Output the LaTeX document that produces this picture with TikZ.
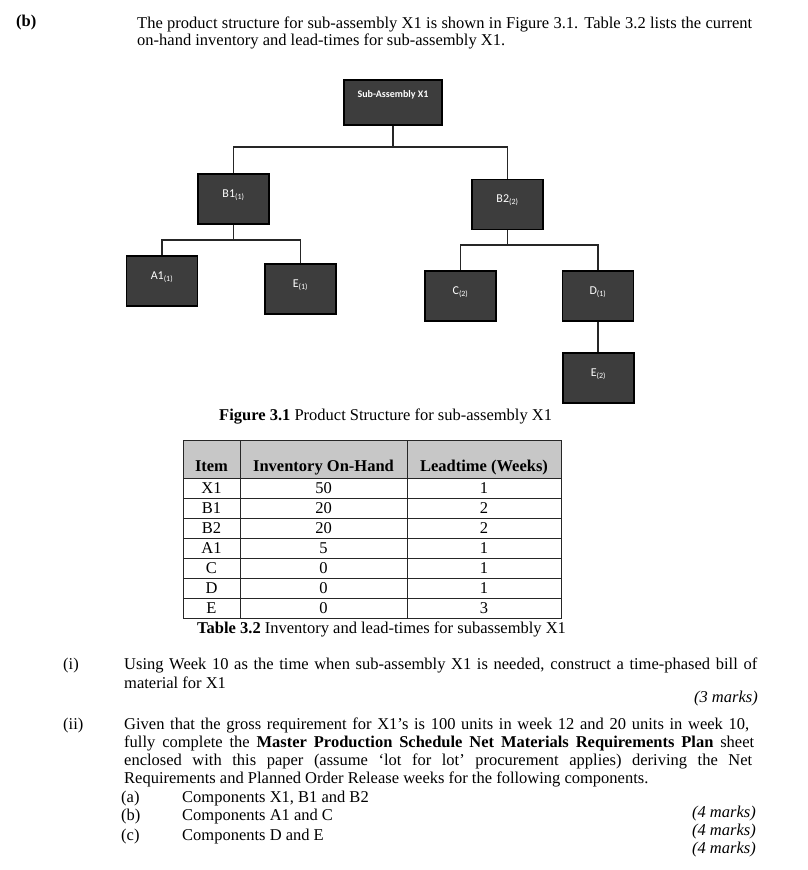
\documentclass[tikz,border=0pt]{standalone}
\usepackage{fontspec}
\setmainfont{Liberation Serif}
\newfontfamily\boxfont{Carlito}

\begin{document}
\begin{tikzpicture}[x=1pt, y=-1pt,
			partbox/.style={rectangle, draw=black, line width=1.3pt, fill=black!76,
				text=white, font=\boxfont\fontsize{12}{14}\selectfont,
				minimum width=71pt, minimum height=50pt, inner sep=0pt, text depth=11pt},
			topbox/.style={partbox, minimum width=98pt, minimum height=45pt,
				font=\boxfont\bfseries\fontsize{10}{12}\selectfont, text depth=17pt},
			bomline/.style={draw=black!85, line width=1.8pt},
			tabline/.style={draw=black!85, line width=1pt},
			body/.style={anchor=base west, inner sep=0pt, font=\fontsize{16.5}{18.4}\selectfont},
			marks/.style={anchor=base east, inner sep=0pt, font=\fontsize{16.5}{18.4}\selectfont\itshape},
			cell/.style={anchor=base, inner sep=0pt, font=\fontsize{16.5}{18.4}\selectfont}
			]
			\useasboundingbox (0,0) rectangle (808,870);
			
			% Question text above the figure
			\node[body] (partb) at (16,26) {\textbf{(b)}};
			\node[body] (intro1) at (137,28) {\makebox[615pt][s]{The product structure for sub-assembly X1 is shown in Figure 3.1. Table 3.2 lists the current}};
			\node[body] (intro2) at (137,45.5) {on-hand inventory and lead-times for sub-assembly X1.};
			
			% Product structure (Figure 3.1)
			\node[topbox] (x1) at (393,102.5) {Sub-Assembly X1};
			\node[partbox] (b1) at (233.5,199) {B1\textsubscript{(1)}};
			\node[partbox] (b2) at (507.5,204.5) {B2\textsubscript{(2)}};
			\node[partbox] (a1) at (162,281) {A1\textsubscript{(1)}};
			\node[partbox] (e1) at (300.5,289) {E\textsubscript{(1)}};
			\node[partbox] (c) at (460.5,296) {C\textsubscript{(2)}};
			\node[partbox] (d) at (598,296) {D\textsubscript{(1)}};
			\node[partbox] (e2) at (598.5,378) {E\textsubscript{(2)}};
			
			\foreach \p/\c/\h in {x1/b1/21, x1/b2/21, b1/a1/15, b1/e1/15, b2/c/15, b2/d/15}
				\draw[bomline] (\p.south) -- ++(0,\h) -| (\c.north);
			\draw[bomline] (d.south) -- (d.south |- e2.north);
			
			\node[body] (figcap) at (219,420) {\textbf{Figure 3.1} Product Structure for sub-assembly X1};
			
			% Table 3.2
			\fill[black!22] (183,440) rectangle (561,478);
			\draw[tabline] (183,440) rectangle (561,618.7);
			\draw[tabline] (240,440) -- (240,618.7);
			\draw[tabline] (407,440) -- (407,618.7);
			\foreach \i in {0,...,6}
				\draw[tabline] (183,478+\i*20.1) -- (561,478+\i*20.1);
			
			\node[cell] (hitem) at (211.5,471) {\textbf{Item}};
			\node[cell] (hinv) at (323.5,471) {\textbf{Inventory On-Hand}};
			\node[cell] (hlead) at (484,471) {\textbf{Leadtime (Weeks)}};
			\foreach \item/\inv/\lead [count=\r] in {X1/50/1, B1/20/2, B2/20/2, A1/5/1, C/0/1, D/0/1, E/0/3} {
				\node[cell] (item\r) at (211.5,478+\r*20.1-5) {\item};
				\node[cell] (inv\r) at (323.5,478+\r*20.1-5) {\inv};
				\node[cell] (lead\r) at (484,478+\r*20.1-5) {\lead};
			}
			
			\node[body] (tabcap) at (197,633) {\textbf{Table 3.2} Inventory and lead-times for subassembly X1};
			
			% Questions (i) and (ii)
			\node[body] (qi) at (63,669) {(i)};
			\node[body] (qi1) at (124,669) {\makebox[633pt][s]{Using Week 10 as the time when sub-assembly X1 is needed, construct a time-phased bill of}};
			\node[body] (qi2) at (124,688) {material for X1};
			\node[marks] (mi) at (758,702) {(3 marks)};
			
			\node[body] (qii) at (63,729) {(ii)};
			\node[body] (qii1) at (124,729) {\makebox[625pt][s]{Given that the gross requirement for X1’s is 100 units in week 12 and 20 units in week 10,}};
			\node[body] (qii2) at (124,747) {\makebox[630pt][s]{fully complete the \textbf{Master Production Schedule Net Materials Requirements Plan} sheet}};
			\node[body] (qii3) at (124,765) {\makebox[628pt][s]{enclosed with this paper (assume ‘lot for lot’ procurement applies) deriving the Net}};
			\node[body] (qii4) at (124,783) {Requirements and Planned Order Release weeks for the following components.};
			
			\node[body] (qa) at (121,802) {(a)};
			\node[body] (qa1) at (182,802) {Components X1, B1 and B2};
			\node[body] (qb) at (121,820) {(b)};
			\node[body] (qb1) at (182,820) {Components A1 and C};
			\node[body] (qc) at (121,840) {(c)};
			\node[body] (qc1) at (182,840) {Components D and E};
			
			\node[marks] (ma) at (756,817) {(4 marks)};
			\node[marks] (mb) at (756,835) {(4 marks)};
			\node[marks] (mc) at (756,853) {(4 marks)};
			
		\end{tikzpicture}
\end{document}
